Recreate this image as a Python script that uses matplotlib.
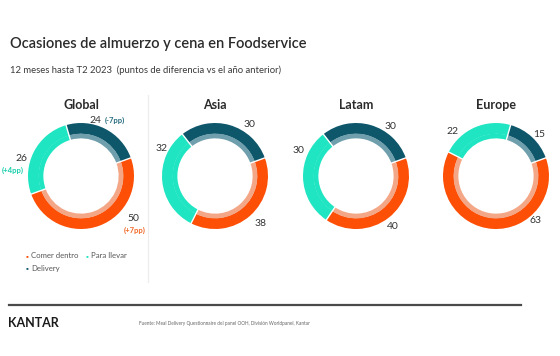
import numpy as np
import matplotlib
matplotlib.use("Agg")
import matplotlib.pyplot as plt

plt.rcParams['font.family'] = ['Lato', 'DejaVu Sans']

# ---- data ----
regions = ["Global", "Asia", "Latam", "Europe"]
categories = ["Comer dentro", "Para llevar", "Delivery"]
comer_dentro = [50, 38, 40, 63]
para_llevar = [26, 32, 30, 22]
delivery = [24, 30, 30, 15]
global_changes = ["+7pp", "+4pp", "-7pp"]   # Comer dentro, Para llevar, Delivery

title = "Ocasiones de almuerzo y cena en Foodservice"
subtitle = "12 meses hasta T2 2023  (puntos de diferencia vs el año anterior)"
source = "Fuente: Meal Delivery Questionnaire del panel OOH, División Worldpanel, Kantar"

# ---- styles ----
dark = ["#fd4f06", "#20e5c2", "#0e566a"]
light = ["#f4a787", "#20e5c2", "#6f9fac"]
change_colors = ["#f26a2a", "#1ccfae", "#2a6e80"]
# label placement (angle in degrees, radius as fraction of donut radius) per region
label_pos = [
    [(-39, 1.28), (164, 1.17), (61, 1.20)],
    [(-46, 1.24), (153, 1.13), (56, 1.18)],
    [(-54, 1.17), (156, 1.18), (55, 1.14)],
    [(-48, 1.12), (134, 1.18), (44, 1.12)],
]

W, H = 560, 356
fig = plt.figure(figsize=(W / 100, H / 100), dpi=100)
fig.patch.set_facecolor("white")

def fx(px):
    return px / W

def fy(py):
    return 1 - py / H

fig.text(fx(10), fy(44), title, fontsize=10.5, fontweight="semibold",
         color="#2b2b2b", va="center", ha="left")
fig.text(fx(10), fy(70), subtitle, fontsize=6.8, color="#3a3a3a",
         va="center", ha="left")

centers_x = [81, 215, 356, 496]
cy = 176
R = 53            # ring radius in px
pad = 1.05
A = R * pad       # axes half-size in px
start = 20
r_out, r_mid, r_in = 1.0, 0.80, 0.71

for i, reg in enumerate(regions):
    vals = [comer_dentro[i], para_llevar[i], delivery[i]]
    cx = centers_x[i]
    ax = fig.add_axes([fx(cx - A), fy(cy + A), 2 * A / W, 2 * A / H])
    ax.pie(vals, radius=r_out, colors=dark, startangle=start, counterclock=False,
           wedgeprops=dict(width=r_out - r_mid + 0.005, linewidth=0))
    ax.pie(vals, radius=r_mid, colors=light, startangle=start, counterclock=False,
           wedgeprops=dict(width=r_mid - r_in, linewidth=0))
    # white separators between segments
    cum = np.cumsum([0] + vals)
    for c in cum[:-1]:
        ang = np.deg2rad(start - 360 * c / sum(vals))
        ax.plot([r_in * 0.98 * np.cos(ang), 1.02 * np.cos(ang)],
                [r_in * 0.98 * np.sin(ang), 1.02 * np.sin(ang)],
                color="white", linewidth=1.0, solid_capstyle="butt")
    ax.set_xlim(-pad, pad)
    ax.set_ylim(-pad, pad)
    ax.set_aspect("equal")
    ax.axis("off")
    # region title
    fig.text(fx(cx), fy(105), reg, fontsize=9, fontweight="bold",
             color="#2b2b2b", ha="center", va="center")
    for k, v in enumerate(vals):
        angd, rr = label_pos[i][k]
        a = np.deg2rad(angd)
        lx = cx + rr * R * np.cos(a)
        ly = cy - rr * R * np.sin(a)
        if i == 0:
            if k == 2:
                fig.text(fx(lx - 10), fy(ly), f"{v}", fontsize=7.5,
                         color="#333333", ha="right", va="center")
                fig.text(fx(lx - 7), fy(ly), f"({global_changes[k]})",
                         fontsize=5.5, fontweight="bold",
                         color=change_colors[k], ha="left", va="center")
            elif k == 1:
                fig.text(fx(lx), fy(ly), f"{v}", fontsize=7.5,
                         color="#333333", ha="center", va="center")
                fig.text(fx(lx - 9), fy(ly + 11), f"({global_changes[k]})",
                         fontsize=5.5, fontweight="bold",
                         color=change_colors[k], ha="center", va="center")
            else:
                fig.text(fx(lx), fy(ly), f"{v}", fontsize=7.5,
                         color="#333333", ha="center", va="center")
                fig.text(fx(lx + 1), fy(ly + 12), f"({global_changes[k]})",
                         fontsize=5.5, fontweight="bold",
                         color=change_colors[k], ha="center", va="center")
        else:
            fig.text(fx(lx), fy(ly), f"{v}", fontsize=7.5, color="#333333",
                     ha="center", va="center")

# legend
leg_items = [(26, 256, 0), (86, 256, 1), (26, 268, 2)]
for x, y, k in leg_items:
    fig.text(fx(x), fy(y), "\u25aa", fontsize=5, color=dark[k],
             ha="left", va="center")
    fig.text(fx(x + 5), fy(y), categories[k], fontsize=5.6, color="#555555",
             ha="left", va="center")

# separator
fig.add_artist(plt.Line2D([fx(148), fx(148)], [fy(95), fy(282)],
                          color="#ececec", linewidth=0.8))
# bottom rule
fig.add_artist(plt.Line2D([fx(9), fx(521)], [fy(305), fy(305)],
                          color="#4a4a4a", linewidth=1.6))
fig.text(fx(8), fy(323), "KANTAR", fontsize=9, fontweight="bold",
         color="#1a1a1a", ha="left", va="center")
fig.text(fx(139), fy(323), source, fontsize=3.4, color="#666666",
         ha="left", va="center")

fig.savefig("out.png", dpi=100, facecolor="white")
